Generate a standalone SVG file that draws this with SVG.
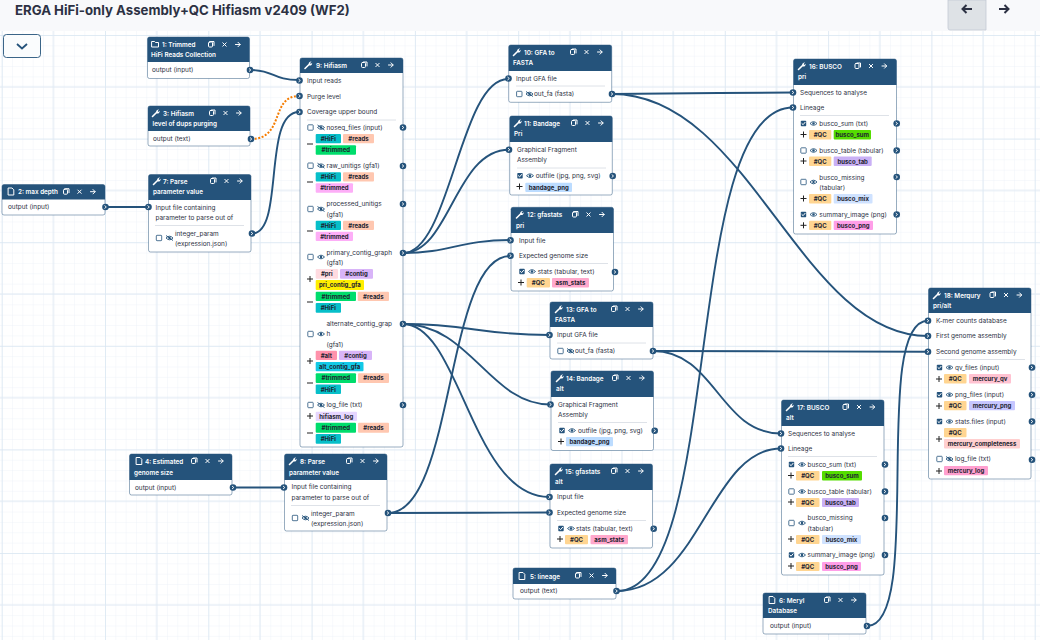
<svg xmlns="http://www.w3.org/2000/svg" width="1040" height="640" viewBox="0 0 1040 640">
<style>
text{font-family:"Inter","Liberation Sans",sans-serif}
.t{font-size:6.45px;fill:#2c3143}
.h{font-size:6.35px;font-weight:600;fill:#fff}
.g{font-size:6px;font-weight:700;fill:#1d2430;text-anchor:middle}
.b{fill:#fff;stroke:#25537b;stroke-opacity:.6;stroke-width:.8}
.d{fill:#25537b}
.l{stroke:#d5dbe2;stroke-width:.8}
.c{fill:none;stroke:#25537b;stroke-width:1.9}
.o{fill:none;stroke:#f57c00;stroke-width:2;stroke-dasharray:2 1.6}
.w{fill:none;stroke:#fff;stroke-width:1;stroke-linecap:round;stroke-linejoin:round}
.k{fill:none;stroke:#25537b;stroke-width:.9}
.m{stroke:#222;stroke-width:1}
.HiFi{fill:#07bfc9}.reads{fill:#ffc7b0}.tg{fill:#00dd6c}.tp{fill:#fdaef7}.pri{fill:#ffdbe0}.contig{fill:#d8b4f8}.pg{fill:#ffee00}.alt{fill:#ff92ab}.ag{fill:#12c9e6}.hl{fill:#e6d6ff}
.qc{fill:#ffd591}.as{fill:#ffa8cc}.bp{fill:#bcdcff}.bs{fill:#55dd00}.bt{fill:#c9b0f5}.bm{fill:#cfe2ff}.bn{fill:#ff9ee8}.mq{fill:#ffc2d1}.mp{fill:#c6c6ff}.mc{fill:#ffcfcf}.ml{fill:#ff9fcf}
</style>
<defs>
<pattern id="gm" x="1.7" y="35" width="10.33" height="10.36" patternUnits="userSpaceOnUse"><path d="M10.33 0H0V10.36" fill="none" stroke="#e9f0f7" stroke-width=".7"/></pattern>
<pattern id="gb" x="1.7" y="35" width="103.3" height="103.6" patternUnits="userSpaceOnUse"><path d="M103.3 0H0V103.6" fill="none" stroke="#d9e6f2" stroke-width="1.5"/><path d="M51.65 0V103.6M0 51.8H103.3" fill="none" stroke="#e0eaf4" stroke-width="1"/></pattern>
<g id="p"><circle r="3.3" class="d"/><path d="M-1 -1.5L.8 0L-1 1.5" fill="none" stroke="#fff" stroke-width=".9"/></g>
<g id="hi"><rect x="61.5" y="5" width="4" height="5" rx="1" class="w" stroke-width=".8"/><path d="M63.5 4.5H67V8.5" class="w"/><path d="M75.8 5.8L79.2 9.2M79.2 5.8L75.8 9.2" class="w"/><path d="M88.5 7.5H93M91 5.3L93.2 7.5L91 9.7" class="w"/></g>
<g id="wr"><path d="M-3.5 3.5L.8 -.8" stroke="#fff" stroke-width="1.6" stroke-linecap="round"/><path d="M.2 -1.4A2.2 2.2 0 0 1 3 -3.4L1.6 -2L2.4 -1L3.6 -2.2A2.2 2.2 0 0 1 .8 .4Z" fill="#fff"/></g>
<path id="fi" d="M-2.5 -3.5H1L2.8 -1.7V3.5H-2.5Z" class="w"/>
<g id="cb"><rect x="-2.7" y="-2.7" width="5.4" height="5.4" rx=".7" fill="#fff" stroke="#25537b" stroke-width=".8"/></g>
<g id="cc"><rect x="-2.7" y="-2.7" width="5.4" height="5.4" rx=".7" class="d"/><path d="M-1.6 0L-.4 1.2L1.6 -1.2" class="w" stroke-width=".8"/></g>
<g id="e"><path d="M-3.5 0Q0 -3.6 3.5 0Q0 3.6 -3.5 0Z" class="k"/><circle r="1.2" class="d"/></g>
<g id="es"><use href="#e"/><path d="M-3.5 -2.5L3.5 2.5" class="k"/></g>
<path id="pl" d="M-3 0H3M0 -3V3" class="m"/>
<path id="mi" d="M-3 0H3" class="m"/>
</defs>

<rect width="1040" height="640" fill="#fff"/>
<rect y="31" width="1040" height="609" fill="url(#gm)"/>
<rect y="31" width="1040" height="609" fill="url(#gb)"/>
<rect width="1040" height="31" fill="#f8f9fb"/>
<text x="15" y="14.500" font-size="13.2" font-weight="700" fill="#2c3143">ERGA HiFi-only Assembly+QC Hifiasm v2409 (WF2)</text>
<path d="M948 0V28Q948 30 950 30H986V0Z" fill="#dee2e6" stroke="#c3cad4" stroke-width=".8"/>
<path d="M972 9H963M966.500 5L962.500 9L966.500 13" fill="none" stroke="#2c3143" stroke-width="2"/>
<path d="M999 9H1008M1004.500 5L1008.500 9L1004.500 13" fill="none" stroke="#2c3143" stroke-width="2"/>
<rect x="3.500" y="34.500" width="37" height="23" rx="3" fill="#fafcfd" stroke="#25537b" stroke-width=".9"/>
<path d="M17 44L22 48.500L27 44" fill="none" stroke="#25537b" stroke-width="1.8"/>

<g id="connectors">
<path class="c" d="M250 70C275 70 272 80 299 80"/>
<path class="o" d="M251 139C285 139 270 96 299 96"/>
<path class="c" d="M252 233.500C285 233.500 262 112 299 112"/>
<path class="c" d="M105.500 207H148"/>
<path class="c" d="M233 487.500H284"/>
<path class="c" d="M403 253C450 253 460 79 508 79"/>
<path class="c" d="M403 253C450 253 455 149.700 509 149.700"/>
<path class="c" d="M403 253C450 253 460 240 510 240"/>
<path class="c" d="M403 324C470 324 480 335 549 335"/>
<path class="c" d="M403 324C470 324 490 404.500 550 404.500"/>
<path class="c" d="M403 324C460 324 472 497 549 497"/>
<path class="c" d="M388 513C455 513 445 256 510 256"/>
<path class="c" d="M388 513C450 513 490 512.500 549 512.500"/>
<path class="c" d="M612 94C680 94 730 92.500 793 92.500"/>
<path class="c" d="M612 94C750 94 800 336 928 336"/>
<path class="c" d="M653 351C715 351 720 433.500 781 433.500"/>
<path class="c" d="M653 351C750 351 830 351.700 928 351.700"/>
<path class="c" d="M617 591C725 591 680 107.500 793 107.500"/>
<path class="c" d="M617 591C700 591 710 448.500 781 448.500"/>
<path class="c" d="M867 626C925 626 870 320.700 928 320.700"/>
</g>

<g id="node-1"><rect class="b" x="147.500" y="37" width="102" height="41.500" rx="2"/><path class="d" d="M147.500 39a2 2 0 0 1 2-2h98a2 2 0 0 1 2 2v23h-102z"/><path d="M152 41.500h2.500l1 1h3v4.500h-6.500z" class="w" stroke-width=".7"/><use href="#hi" x="147" y="37"/><text class="h" x="162" y="46.500">1: Trimmed</text><text class="h" x="151" y="57">HiFi Reads Collection</text><text class="t" x="152" y="72.400">output (input)</text><use href="#p" x="250" y="70"/></g>

<g id="node-3"><rect class="b" x="148" y="106" width="102" height="40" rx="2"/><path class="d" d="M148 108a2 2 0 0 1 2-2h98a2 2 0 0 1 2 2v23h-102z"/><use href="#wr" x="156" y="113"/><use href="#hi" x="148" y="105.500"/><text class="h" x="163" y="115.500">3: Hifiasm</text><text class="h" x="152.500" y="125.800">level of dups purging</text><text class="t" x="153" y="141.400">output (text)</text><use href="#p" x="251" y="139"/></g>

<g id="node-2"><rect class="b" x="2" y="184.500" width="103" height="30.500" rx="2"/><path class="d" d="M2 186.500a2 2 0 0 1 2-2h99a2 2 0 0 1 2 2v13h-103z"/><use href="#fi" x="11" y="191.500"/><use href="#hi" x="2" y="184.200"/><text class="h" x="18" y="194.200">2: max depth</text><text class="t" x="8" y="209.400">output (input)</text><use href="#p" x="105.500" y="207"/></g>

<g id="node-7"><rect class="b" x="148.500" y="174.500" width="102.500" height="77.500" rx="2"/><path class="d" d="M148.500 176.500a2 2 0 0 1 2-2h98.500a2 2 0 0 1 2 2v23.500h-102.500z"/><use href="#wr" x="157" y="181"/><use href="#hi" x="149" y="173.500"/><text class="h" x="163" y="184">7: Parse</text><text class="h" x="153" y="194.300">parameter value</text><text class="t" x="155.500" y="209.900">Input file containing</text><text class="t" x="155.500" y="220.100">parameter to parse out of</text><path class="l" d="M155 225.500H244"/><use href="#cb" x="159" y="238"/><use href="#es" x="169.500" y="238"/><text class="t" x="175" y="236.100">integer_param</text><text class="t" x="175" y="246.400">(expression.json)</text><use href="#p" x="252" y="233.500"/><use href="#p" x="148.500" y="207"/></g>

<g id="node-9"><rect class="b" x="300" y="58" width="103" height="389" rx="2"/><path class="d" d="M300 60a2 2 0 0 1 2-2h99a2 2 0 0 1 2 2v13h-103z"/><use href="#wr" x="308.500" y="65"/><use href="#hi" x="300" y="57.500"/><text class="h" x="316" y="67.500">9: Hifiasm</text>
<text class="t" x="307" y="83.100">Input reads</text><text class="t" x="307" y="98.700">Purge level</text><text class="t" x="307" y="114.400">Coverage upper bound</text><path class="l" d="M307 120H396"/>
<use href="#p" x="299.500" y="80.500"/><use href="#p" x="299.500" y="96"/><use href="#p" x="299.500" y="112"/>
<use href="#cb" x="310.500" y="127.500"/><use href="#es" x="321" y="127.500"/><text class="t" x="326.500" y="129.800">noseq_files (input)</text><use href="#p" x="403" y="127.500"/><use href="#mi" x="310" y="144"/>
<rect class="HiFi" x="315.700" y="134" width="25.300" height="9.300" rx="1"/><text class="g" x="328.300" y="140.900">#HiFi</text><rect class="reads" x="343" y="134" width="31" height="9.300" rx="1"/><text class="g" x="358.500" y="140.900">#reads</text><rect class="tg" x="315.700" y="145.300" width="40.300" height="9.400" rx="1"/><text class="g" x="335.800" y="152.200">#trimmed</text>
<use href="#cb" x="310.500" y="165.700"/><use href="#es" x="321" y="165.700"/><text class="t" x="326.500" y="168.100">raw_unitigs (gfa1)</text><use href="#p" x="403" y="166"/><use href="#mi" x="310" y="182"/>
<rect class="HiFi" x="315.700" y="172.200" width="25.300" height="9.300" rx="1"/><text class="g" x="328.300" y="179.100">#HiFi</text><rect class="reads" x="343" y="172.200" width="31" height="9.300" rx="1"/><text class="g" x="358.500" y="179.100">#reads</text><rect class="tp" x="315.700" y="183.300" width="37.300" height="9.400" rx="1"/><text class="g" x="334.400" y="190.200">#trimmed</text>
<use href="#cb" x="310.500" y="209"/><use href="#es" x="321" y="209"/><text class="t" x="326.500" y="206.400">processed_unitigs</text><text class="t" x="326.500" y="216.500">(gfa1)</text><use href="#p" x="403" y="204"/><use href="#mi" x="310" y="231"/>
<rect class="HiFi" x="315.700" y="220.700" width="25.300" height="9.300" rx="1"/><text class="g" x="328.300" y="227.600">#HiFi</text><rect class="reads" x="343" y="220.700" width="31" height="9.300" rx="1"/><text class="g" x="358.500" y="227.600">#reads</text><rect class="tp" x="315.700" y="231.700" width="37.300" height="9.400" rx="1"/><text class="g" x="334.400" y="238.600">#trimmed</text>
<use href="#cb" x="310.500" y="257"/><use href="#e" x="321" y="257"/><text class="t" x="326.500" y="255.100">primary_contig_graph</text><text class="t" x="326.500" y="265.400">(gfa1)</text><use href="#p" x="403" y="253"/><use href="#pl" x="310" y="279"/><use href="#mi" x="310" y="302"/>
<rect class="pri" x="315.700" y="269" width="22.300" height="9.700" rx="1"/><text class="g" x="326.800" y="276">#pri</text><rect class="contig" x="340" y="269" width="33" height="9.700" rx="1"/><text class="g" x="356.500" y="276">#contig</text><rect class="pg" x="315.700" y="280" width="48.300" height="10" rx="1"/><text class="g" x="339.900" y="287.100">pri_contig_gfa</text>
<rect class="tg" x="315.700" y="291.700" width="40.300" height="9.400" rx="1"/><text class="g" x="335.800" y="298.600">#trimmed</text><rect class="reads" x="357.700" y="291.700" width="31.300" height="9.400" rx="1"/><text class="g" x="373.300" y="298.600">#reads</text><rect class="HiFi" x="315.700" y="303" width="25.300" height="9.700" rx="1"/><text class="g" x="328.300" y="310">#HiFi</text>
<use href="#cb" x="310.500" y="334"/><use href="#e" x="321" y="334"/><text class="t" x="326.500" y="326.400">alternate_contig_grap</text><text class="t" x="326.500" y="336.400">h</text><text class="t" x="326.500" y="346.900">(gfa1)</text><use href="#p" x="403" y="324"/><use href="#pl" x="310" y="361"/><use href="#mi" x="310" y="383"/>
<rect class="alt" x="315.700" y="350.700" width="21.300" height="9.300" rx="1"/><text class="g" x="326.300" y="357.600">#alt</text><rect class="contig" x="339" y="350.700" width="33" height="9.300" rx="1"/><text class="g" x="355.500" y="357.600">#contig</text><rect class="ag" x="315.700" y="362" width="47.800" height="9.300" rx="1"/><text class="g" x="339.600" y="368.900">alt_contig_gfa</text>
<rect class="tg" x="315.700" y="373.300" width="40.300" height="9.700" rx="1"/><text class="g" x="335.800" y="380.300">#trimmed</text><rect class="reads" x="358" y="373.300" width="31" height="9.700" rx="1"/><text class="g" x="373.500" y="380.300">#reads</text><rect class="HiFi" x="315.700" y="384.500" width="25.300" height="9.500" rx="1"/><text class="g" x="328.300" y="391.500">#HiFi</text>
<use href="#cb" x="310.500" y="405"/><use href="#es" x="321" y="405"/><text class="t" x="326.500" y="407.400">log_file (txt)</text><use href="#p" x="403" y="405"/><use href="#pl" x="310" y="416"/><use href="#mi" x="310" y="433"/>
<rect class="hl" x="315.700" y="411.700" width="41.300" height="9.300" rx="1"/><text class="g" x="336.300" y="418.600">hifiasm_log</text><rect class="tg" x="315.700" y="422.700" width="40.300" height="10" rx="1"/><text class="g" x="335.800" y="429.800">#trimmed</text><rect class="reads" x="358" y="422.700" width="31" height="10" rx="1"/><text class="g" x="373.500" y="429.800">#reads</text><rect class="HiFi" x="315.700" y="434" width="25.300" height="9.700" rx="1"/><text class="g" x="328.300" y="441">#HiFi</text></g>

<g id="node-10"><rect class="b" x="508.700" y="45" width="103" height="57.300" rx="2"/><path class="d" d="M508.700 47a2 2 0 0 1 2-2h99a2 2 0 0 1 2 2v24h-103z"/><use href="#wr" x="517" y="52"/><use href="#hi" x="509" y="44.500"/><text class="h" x="524" y="54.800">10: GFA to</text><text class="h" x="513" y="64.800">FASTA</text><text class="t" x="516" y="80.900">Input GFA file</text><use href="#p" x="508.500" y="78.500"/><path class="l" d="M516 86H605"/><use href="#cb" x="519.300" y="94"/><use href="#es" x="529.500" y="94"/><text class="t" x="534" y="96.400">out_fa (fasta)</text><use href="#p" x="612" y="94"/></g>

<g id="node-11"><rect class="b" x="509.700" y="116" width="102.600" height="79" rx="2"/><path class="d" d="M509.700 118a2 2 0 0 1 2-2h98.600a2 2 0 0 1 2 2v24h-102.600z"/><use href="#wr" x="518" y="123"/><use href="#hi" x="510" y="115.500"/><text class="h" x="524" y="126">11: Bandage</text><text class="h" x="514" y="136">Pri</text><text class="t" x="517" y="152.100">Graphical Fragment</text><text class="t" x="517" y="162.400">Assembly</text><use href="#p" x="509" y="149.700"/><path class="l" d="M517 168H606"/><use href="#cc" x="520" y="175.700"/><use href="#e" x="530" y="175.700"/><text class="t" x="535.700" y="178.100">outfile (jpg, png, svg)</text><use href="#p" x="612.700" y="176"/><use href="#pl" x="519.500" y="186.500"/><rect class="bp" x="525.300" y="182.700" width="46.700" height="9.300" rx="1"/><text class="g" x="548.700" y="189.600">bandage_png</text></g>

<g id="node-12"><rect class="b" x="511" y="207.300" width="102.500" height="83.700" rx="2"/><path class="d" d="M511 209.300a2 2 0 0 1 2-2h98.500a2 2 0 0 1 2 2v23.700h-102.500z"/><use href="#wr" x="520" y="214.500"/><use href="#hi" x="511" y="207"/><text class="h" x="527" y="217">12: gfastats</text><text class="h" x="516" y="227.500">pri</text><text class="t" x="519" y="242.700">Input file</text><text class="t" x="519" y="258.100">Expected genome size</text><use href="#p" x="510.500" y="240.300"/><use href="#p" x="510.500" y="255.700"/><path class="l" d="M519 263.500H608"/><use href="#cc" x="522" y="271.500"/><use href="#e" x="532" y="271.500"/><text class="t" x="537.700" y="273.900">stats (tabular, text)</text><use href="#p" x="615" y="272"/><use href="#pl" x="521" y="282.500"/><rect class="qc" x="526.700" y="278" width="23.300" height="9.500" rx="1"/><text class="g" x="538.300" y="285">#QC</text><rect class="as" x="552" y="278" width="37" height="9.500" rx="1"/><text class="g" x="570.500" y="285">asm_stats</text></g>

<g id="node-13"><rect class="b" x="550" y="302" width="103" height="57" rx="2"/><path class="d" d="M550 304a2 2 0 0 1 2-2h99a2 2 0 0 1 2 2v23h-103z"/><use href="#wr" x="559" y="309"/><use href="#hi" x="550" y="301.500"/><text class="h" x="566" y="311.700">13: GFA to</text><text class="h" x="555" y="322">FASTA</text><text class="t" x="557" y="337.400">Input GFA file</text><use href="#p" x="549.500" y="335"/><path class="l" d="M557 343H646"/><use href="#cb" x="560.500" y="351"/><use href="#es" x="570.500" y="351"/><text class="t" x="575" y="353.400">out_fa (fasta)</text><use href="#p" x="653" y="351"/></g>

<g id="node-14"><rect class="b" x="551" y="371" width="102.500" height="79.500" rx="2"/><path class="d" d="M551 373a2 2 0 0 1 2-2h98.500a2 2 0 0 1 2 2v24h-102.500z"/><use href="#wr" x="560" y="378"/><use href="#hi" x="551" y="370.500"/><text class="h" x="566" y="381">14: Bandage</text><text class="h" x="556" y="391">alt</text><text class="t" x="558" y="406.900">Graphical Fragment</text><text class="t" x="558" y="417.100">Assembly</text><use href="#p" x="550.500" y="404.500"/><path class="l" d="M558 422.500H647"/><use href="#cc" x="562" y="430.500"/><use href="#e" x="572" y="430.500"/><text class="t" x="578" y="432.900">outfile (jpg, png, svg)</text><use href="#p" x="654.700" y="430.700"/><use href="#pl" x="561" y="441.500"/><rect class="bp" x="566" y="437" width="47" height="9.300" rx="1"/><text class="g" x="589.500" y="443.900">bandage_png</text></g>

<g id="node-15"><rect class="b" x="550" y="464" width="102.500" height="84" rx="2"/><path class="d" d="M550 466a2 2 0 0 1 2-2h98.500a2 2 0 0 1 2 2v24h-102.500z"/><use href="#wr" x="559" y="471"/><use href="#hi" x="550" y="463.500"/><text class="h" x="565" y="474">15: gfastats</text><text class="h" x="555" y="484">alt</text><text class="t" x="557" y="499.400">Input file</text><text class="t" x="557" y="514.900">Expected genome size</text><use href="#p" x="549.500" y="497"/><use href="#p" x="549.500" y="512.500"/><path class="l" d="M557 520.500H646"/><use href="#cc" x="561" y="528.500"/><use href="#e" x="571" y="528.500"/><text class="t" x="576" y="530.900">stats (tabular, text)</text><use href="#p" x="653.700" y="528.700"/><use href="#pl" x="560" y="539"/><rect class="qc" x="565" y="535" width="23" height="9.300" rx="1"/><text class="g" x="576.500" y="542">#QC</text><rect class="as" x="590.500" y="535" width="37.500" height="9.300" rx="1"/><text class="g" x="609.200" y="542">asm_stats</text></g>

<g id="node-5"><rect class="b" x="513" y="568" width="103" height="31" rx="2"/><path class="d" d="M513 570a2 2 0 0 1 2-2h99a2 2 0 0 1 2 2v14h-103z"/><use href="#fi" x="522" y="576"/><use href="#hi" x="514" y="568"/><text class="h" x="530" y="578.500">5: lineage</text><text class="t" x="520" y="593.400">output (text)</text><use href="#p" x="616.500" y="591"/></g>

<g id="node-4"><rect class="b" x="129.500" y="454" width="102.500" height="41" rx="2"/><path class="d" d="M129.500 456a2 2 0 0 1 2-2h98.500a2 2 0 0 1 2 2v24h-102.500z"/><use href="#fi" x="139" y="461"/><use href="#hi" x="130" y="453.500"/><text class="h" x="145" y="464">4: Estimated</text><text class="h" x="134" y="474.500">genome size</text><text class="t" x="135" y="489.900">output (input)</text><use href="#p" x="233" y="487.500"/></g>

<g id="node-8"><rect class="b" x="284.500" y="454" width="102.500" height="77" rx="2"/><path class="d" d="M284.500 456a2 2 0 0 1 2-2h98.500a2 2 0 0 1 2 2v24h-102.500z"/><use href="#wr" x="293" y="461"/><use href="#hi" x="285" y="453.500"/><text class="h" x="300" y="464">8: Parse</text><text class="h" x="289" y="474.500">parameter value</text><text class="t" x="291.500" y="489.400">Input file containing</text><text class="t" x="291.500" y="499.600">parameter to parse out of</text><use href="#p" x="284" y="487.500"/><path class="l" d="M291 505.500H380"/><use href="#cb" x="295" y="518"/><use href="#es" x="305.500" y="518"/><text class="t" x="311" y="515.900">integer_param</text><text class="t" x="311" y="526.400">(expression.json)</text><use href="#p" x="388" y="513"/></g>

<g id="node-16"><rect class="b" x="793.500" y="59" width="103" height="175" rx="2"/><path class="d" d="M793.500 61a2 2 0 0 1 2-2h99a2 2 0 0 1 2 2v24h-103z"/><use href="#wr" x="802" y="66"/><use href="#hi" x="793.500" y="58.500"/><text class="h" x="809" y="69">16: BUSCO</text><text class="h" x="798" y="79">pri</text><text class="t" x="800" y="94.900">Sequences to analyse</text><text class="t" x="800" y="109.900">Lineage</text><use href="#p" x="793" y="92.500"/><use href="#p" x="793" y="107.500"/><path class="l" d="M800 115.500H889"/>
<use href="#cc" x="803.500" y="123.500"/><use href="#e" x="813.500" y="123.500"/><text class="t" x="819.300" y="125.900">busco_sum (txt)</text><use href="#p" x="896.700" y="123.500"/><use href="#pl" x="803.500" y="134.500"/><rect class="qc" x="809" y="130" width="22.300" height="9.500" rx="1"/><text class="g" x="820.200" y="137">#QC</text><rect class="bs" x="833.700" y="130" width="37.300" height="9.500" rx="1"/><text class="g" x="852.300" y="137">busco_sum</text>
<use href="#cb" x="803.500" y="150.500"/><use href="#e" x="813.500" y="150.500"/><text class="t" x="819.300" y="152.900">busco_table (tabular)</text><use href="#p" x="896.700" y="150.500"/><use href="#pl" x="803.500" y="161"/><rect class="qc" x="809" y="156.500" width="22.300" height="9.500" rx="1"/><text class="g" x="820.200" y="163.500">#QC</text><rect class="bt" x="833.700" y="156.500" width="38" height="9.500" rx="1"/><text class="g" x="852.700" y="163.500">busco_tab</text>
<use href="#cb" x="803.500" y="182"/><use href="#e" x="813.500" y="182"/><text class="t" x="819.300" y="179.900">busco_missing</text><text class="t" x="819.300" y="190.400">(tabular)</text><use href="#p" x="896.700" y="177"/><use href="#pl" x="803.500" y="198.500"/><rect class="qc" x="809" y="194" width="22.300" height="9.500" rx="1"/><text class="g" x="820.200" y="201">#QC</text><rect class="bm" x="833.700" y="194" width="38.800" height="9.500" rx="1"/><text class="g" x="853.100" y="201">busco_mix</text>
<use href="#cc" x="803.500" y="214.500"/><use href="#e" x="813.500" y="214.500"/><text class="t" x="819.300" y="216.900">summary_image (png)</text><use href="#p" x="896.700" y="214.500"/><use href="#pl" x="803.500" y="225.300"/><rect class="qc" x="809" y="220.700" width="22.300" height="9.300" rx="1"/><text class="g" x="820.200" y="227.600">#QC</text><rect class="bn" x="833.700" y="220.700" width="39.300" height="9.300" rx="1"/><text class="g" x="853.300" y="227.600">busco_png</text></g>

<g id="node-17"><rect class="b" x="781.500" y="400" width="102.500" height="175" rx="2"/><path class="d" d="M781.500 402a2 2 0 0 1 2-2h98.500a2 2 0 0 1 2 2v24h-102.500z"/><use href="#wr" x="790" y="407"/><use href="#hi" x="781.500" y="399.500"/><text class="h" x="797" y="410">17: BUSCO</text><text class="h" x="786" y="420">alt</text><text class="t" x="788" y="435.900">Sequences to analyse</text><text class="t" x="788" y="450.900">Lineage</text><use href="#p" x="781" y="433.500"/><use href="#p" x="781" y="448.500"/><path class="l" d="M788 456.500H877"/>
<use href="#cc" x="791.500" y="464.500"/><use href="#e" x="802" y="464.500"/><text class="t" x="807.500" y="466.900">busco_sum (txt)</text><use href="#p" x="885" y="464.500"/><use href="#pl" x="791" y="475.500"/><rect class="qc" x="796" y="471" width="23.500" height="9.500" rx="1"/><text class="g" x="807.700" y="478">#QC</text><rect class="bs" x="822" y="471" width="40" height="9.500" rx="1"/><text class="g" x="842" y="478">busco_sum</text>
<use href="#cb" x="791.500" y="491.500"/><use href="#e" x="802" y="491.500"/><text class="t" x="807.500" y="493.900">busco_table (tabular)</text><use href="#p" x="885" y="491.500"/><use href="#pl" x="791" y="502"/><rect class="qc" x="796" y="498" width="23.500" height="9" rx="1"/><text class="g" x="807.700" y="504.800">#QC</text><rect class="bt" x="822" y="498" width="37" height="9" rx="1"/><text class="g" x="840.500" y="504.800">busco_tab</text>
<use href="#cb" x="791.500" y="523"/><use href="#e" x="802" y="523"/><text class="t" x="807.500" y="520.400">busco_missing</text><text class="t" x="807.500" y="530.900">(tabular)</text><use href="#p" x="885" y="518"/><use href="#pl" x="791" y="539"/><rect class="qc" x="796" y="535" width="23.500" height="9" rx="1"/><text class="g" x="807.700" y="541.800">#QC</text><rect class="bm" x="822" y="535" width="39" height="9" rx="1"/><text class="g" x="841.500" y="541.800">busco_mix</text>
<use href="#cc" x="791.500" y="555"/><use href="#e" x="802" y="555"/><text class="t" x="807.500" y="557.400">summary_image (png)</text><use href="#p" x="885" y="555"/><use href="#pl" x="791" y="566"/><rect class="qc" x="796" y="562" width="23.500" height="9" rx="1"/><text class="g" x="807.700" y="568.800">#QC</text><rect class="bn" x="822" y="562" width="39" height="9" rx="1"/><text class="g" x="841.500" y="568.800">busco_png</text></g>

<g id="node-6"><rect class="b" x="763" y="593" width="103" height="41" rx="2"/><path class="d" d="M763 595a2 2 0 0 1 2-2h99a2 2 0 0 1 2 2v23h-103z"/><use href="#fi" x="772" y="600"/><use href="#hi" x="763" y="592.500"/><text class="h" x="779" y="603">6: Meryl</text><text class="h" x="768" y="613">Database</text><text class="t" x="770" y="628.400">output (input)</text><use href="#p" x="867" y="626"/></g>

<g id="node-18"><rect class="b" x="928.500" y="288" width="102.500" height="191" rx="2"/><path class="d" d="M928.500 290a2 2 0 0 1 2-2h98.500a2 2 0 0 1 2 2v23h-102.500z"/><use href="#wr" x="937" y="295"/><use href="#hi" x="928.500" y="287.500"/><text class="h" x="944" y="297.500">18: Merqury</text><text class="h" x="933" y="308">pri/alt</text><text class="t" x="936" y="323.100">K-mer counts database</text><text class="t" x="936" y="338.400">First genome assembly</text><text class="t" x="936" y="354.100">Second genome assembly</text><use href="#p" x="928" y="320.700"/><use href="#p" x="928" y="336"/><use href="#p" x="928" y="351.700"/><path class="l" d="M936 359.500H1025"/>
<use href="#cc" x="939.500" y="367.500"/><use href="#e" x="949.500" y="367.500"/><text class="t" x="955" y="369.900">qv_files (input)</text><use href="#p" x="1032" y="367.500"/><use href="#pl" x="939" y="379"/><rect class="qc" x="944" y="374" width="22.500" height="9.500" rx="1"/><text class="g" x="955.200" y="381">#QC</text><rect class="mq" x="969" y="374" width="42" height="9.500" rx="1"/><text class="g" x="990" y="381">mercury_qv</text>
<use href="#cc" x="939.500" y="394.700"/><use href="#e" x="949.500" y="394.700"/><text class="t" x="955" y="397.100">png_files (input)</text><use href="#p" x="1032" y="394.700"/><use href="#pl" x="939" y="406"/><rect class="qc" x="944" y="401" width="22.500" height="9.300" rx="1"/><text class="g" x="955.200" y="408">#QC</text><rect class="mp" x="969" y="401" width="46" height="9.300" rx="1"/><text class="g" x="992" y="408">mercury_png</text>
<use href="#cc" x="939.500" y="421.500"/><use href="#e" x="949.500" y="421.500"/><text class="t" x="955" y="423.900">stats.files (input)</text><use href="#p" x="1032" y="421.500"/><use href="#pl" x="939" y="439"/><rect class="qc" x="944" y="428" width="22.500" height="9.300" rx="1"/><text class="g" x="955.200" y="435">#QC</text><rect class="mc" x="944" y="439" width="76" height="9.500" rx="1"/><text class="g" x="982" y="446">mercury_completeness</text>
<use href="#cb" x="939.500" y="459"/><use href="#es" x="949.500" y="459"/><text class="t" x="955" y="461.400">log_file (txt)</text><use href="#p" x="1032" y="459.700"/><use href="#pl" x="939" y="471"/><rect class="ml" x="944" y="466" width="44" height="9.300" rx="1"/><text class="g" x="966" y="473">mercury_log</text></g>
</svg>
